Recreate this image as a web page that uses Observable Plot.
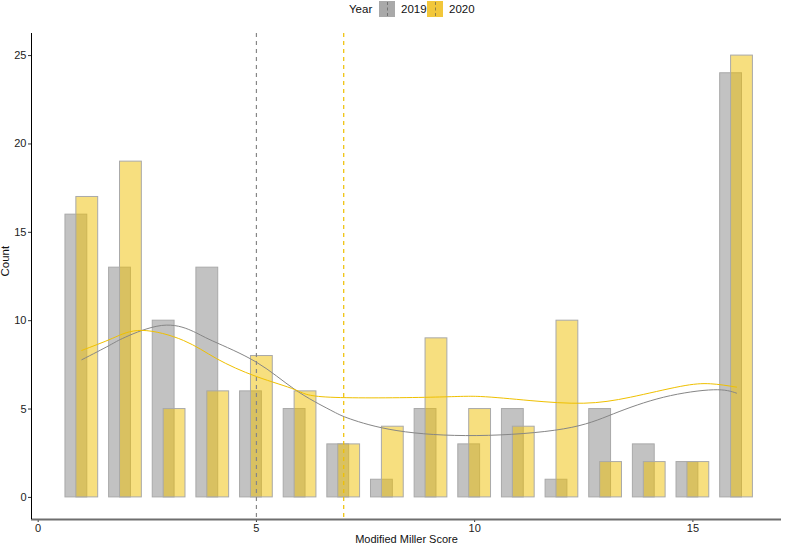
<!DOCTYPE html>
<html>
<head>
<meta charset="utf-8">
<script src="https://cdn.jsdelivr.net/npm/d3@7"></script>
<script src="https://cdn.jsdelivr.net/npm/@observablehq/plot@0.6"></script>
<style>
  html, body { margin: 0; padding: 0; background: #fff; }
  body { width: 787px; height: 546px; overflow: hidden; font-family: "Liberation Sans", Arial, sans-serif; }
  #legend { position: relative; height: 20px; width: 787px; font-size: 11.5px; color: #111; }
  #legend .t { position: absolute; top: 3px; }
  #legend .k { position: absolute; top: 1px; width: 16px; height: 16px; box-sizing: border-box; }
  #legend .k::after { content: ""; position: absolute; left: 7.5px; top: 1px; height: 14px; border-left: 1px dashed rgba(80,80,80,0.6); }
  #chart svg { display: block; }
</style>
</head>
<body>
<div id="legend"></div>
<div id="chart"></div>
<script>
// ---- data ----
const scores = [1, 2, 3, 4, 5, 6, 7, 8, 9, 10, 11, 12, 13, 14, 15, 16];
const count2019 = [16, 13, 10, 13, 6, 5, 3, 1, 5, 3, 5, 1, 5, 3, 2, 24];
const count2020 = [17, 19, 5, 6, 8, 6, 3, 4, 9, 5, 4, 10, 2, 2, 2, 25];
const years = ["2019", "2020"];
const yearColors = ["#868686", "#EFC000"];
const meanLine = [5, 7]; // dashed reference lines per year
const smooth2019X = [1, 1.63, 2, 2.83, 3.5, 4, 5, 5.89, 6.69, 7.15, 8.22, 10.05, 12.04, 13.18, 14.33, 15.47, 16];
const smooth2019Y = [7.79, 8.6, 9.07, 9.73, 9.45, 8.85, 7.65, 6.09, 4.95, 4.44, 3.78, 3.5, 3.88, 4.73, 5.67, 6.09, 5.9];
const smooth2020X = [1, 1.7, 2.38, 3.33, 4.09, 5, 5.89, 6.69, 8.98, 10.13, 11.27, 12.5, 13.57, 14.71, 15.4, 16];
const smooth2020Y = [8.32, 9.0, 9.45, 8.88, 7.85, 6.84, 6.09, 5.67, 5.67, 5.71, 5.48, 5.33, 5.67, 6.28, 6.43, 6.24];
const xTicks = [0, 5, 10, 15];
const yTicks = [0, 5, 10, 15, 20, 25];

// ---- tables built from the arrays ----
const bars = [
  ...scores.map((s, i) => ({score: s, count: count2019[i], year: years[0]})),
  ...scores.map((s, i) => ({score: s, count: count2020[i], year: years[1]}))
];
const smooth = [
  ...smooth2019X.map((x, i) => ({x, y: smooth2019Y[i], year: years[0]})),
  ...smooth2020X.map((x, i) => ({x, y: smooth2020Y[i], year: years[1]}))
];
const vlines = years.map((y, i) => ({year: y, x: meanLine[i]}));
const colorOf = y => yearColors[years.indexOf(y)];
const shift = y => (y === years[0] ? -0.125 : 0.125);

// ---- legend ----
const legend = document.getElementById("legend");
legend.innerHTML = `
  <span class="t" style="left:349px">Year</span>
  <span class="k" style="left:379px;background:#a9a9a9"></span>
  <span class="t" style="left:401px">${years[0]}</span>
  <span class="k" style="left:427px;background:#f2c73a"></span>
  <span class="t" style="left:449px">${years[1]}</span>`;

const xDomain = [-0.153, 17.03];
const yDomain = [-1.25, 26.25];

const chart = Plot.plot({
  width: 787,
  height: 526,
  marginLeft: 31,
  marginRight: 6,
  marginTop: 13,
  marginBottom: 27,
  style: {fontFamily: "Liberation Sans, Arial, sans-serif", fontSize: "11px", color: "#222", background: "#fff"},
  x: {domain: xDomain},
  y: {domain: yDomain},
  marks: [
    Plot.rect(bars, {
      x1: d => d.score + shift(d.year) - 0.25,
      x2: d => d.score + shift(d.year) + 0.25,
      y1: 0,
      y2: "count",
      fill: d => colorOf(d.year),
      fillOpacity: 0.5,
      stroke: "#a9a9a9",
      strokeWidth: 1
    }),
    Plot.ruleX(vlines, {x: "x", stroke: d => colorOf(d.year), strokeDasharray: "4,4", strokeWidth: 1.2}),
    Plot.line(smooth, {x: "x", y: "y", z: "year", stroke: d => colorOf(d.year), curve: "natural", strokeWidth: 1}),
    Plot.axisX(xTicks, {tickSize: 3, tickPadding: 2, label: null, fontSize: 11, stroke: "#333"}),
    Plot.axisY(yTicks, {tickSize: 3, tickPadding: 2, label: null, fontSize: 11, stroke: "#333"}),
    Plot.ruleY([yDomain[0]], {stroke: "#6e6e6e", strokeWidth: 2}),
    Plot.ruleX([xDomain[0]], {stroke: "#000", strokeWidth: 1}),
    Plot.text(["Count"], {frameAnchor: "left", dx: -26, rotate: -90, fontSize: 11.5, fill: "#111"}),
    Plot.text(["Modified Miller Score"], {frameAnchor: "bottom", lineAnchor: "middle", dy: 19.5, fontSize: 11, fill: "#111"})
  ]
});
document.getElementById("chart").appendChild(chart);
</script>
</body>
</html>
